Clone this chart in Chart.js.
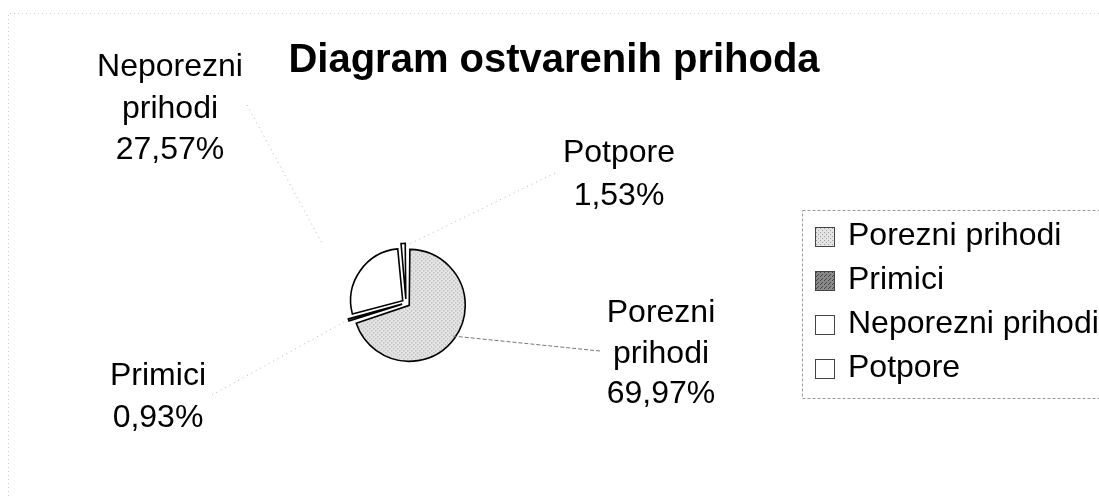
<!DOCTYPE html>
<html><head><meta charset="utf-8">
<script src="https://cdn.jsdelivr.net/npm/chart.js@4.4.0/dist/chart.umd.min.js"></script>
<style>html,body{margin:0;padding:0;background:#fff;}canvas{display:block;}</style>
</head><body>
<canvas id="c" width="1099" height="496"></canvas>
<script>
// ---- data ----
const categories = ['Porezni prihodi', 'Primici', 'Neporezni prihodi', 'Potpore'];
const shares = [69.97, 0.93, 27.57, 1.53];
const labelLines = [['Porezni', 'prihodi'], ['Primici'], ['Neporezni', 'prihodi'], ['Potpore']];
const chartTitle = 'Diagram ostvarenih prihoda';

const fmtPct = v => v.toFixed(2).replace('.', ',') + '%';

const canvas = document.getElementById('c');
const mainCtx = canvas.getContext('2d');
function stipple(base, dot, pts) {
  const t = document.createElement('canvas'); t.width = 4; t.height = 4;
  const g = t.getContext('2d');
  g.fillStyle = base; g.fillRect(0, 0, 4, 4);
  g.fillStyle = dot; pts.forEach(([x, y]) => g.fillRect(x, y, 1, 1));
  return mainCtx.createPattern(t, 'repeat');
}
const lightStipple = stipple('#e4e4e4', '#9c9c9c', [[0, 0], [2, 2]]);
const darkStipple = stipple('#8a8a8a', '#444444', [[0, 0], [2, 2], [1, 3]]);
const fills = [lightStipple, darkStipple, '#ffffff', '#ffffff'];

const FONT = '"Liberation Sans", Arial, sans-serif';

const decor = {
  id: 'decor',
  afterDraw(chart, args, o) {
    const ctx = chart.ctx;
    const meta = chart.getDatasetMeta(0);
    ctx.save();
    // faint outer frame
    ctx.strokeStyle = '#cfcfcf'; ctx.lineWidth = 1; ctx.setLineDash([1, 3]);
    ctx.beginPath(); ctx.moveTo(8.5, 496); ctx.lineTo(8.5, 13.5); ctx.lineTo(1099, 13.5); ctx.stroke();
    // title
    ctx.setLineDash([]);
    ctx.fillStyle = '#000'; ctx.textAlign = 'center'; ctx.textBaseline = 'alphabetic';
    ctx.font = 'bold ' + o.titleSize + 'px ' + FONT;
    ctx.fillText(chartTitle, o.titleX, o.titleY);
    // data labels + leader lines
    ctx.font = o.labelSize + 'px ' + FONT;
    meta.data.forEach((arc, i) => {
      const L = o.labels[i];
      const p = arc.getProps(['x', 'y', 'startAngle', 'endAngle', 'outerRadius'], true);
      const mid = (p.startAngle + p.endAngle) / 2;
      const r = p.outerRadius + (arc.options.offset || 0) / 4 + L.gap;
      const ex = p.x + Math.cos(mid) * r, ey = p.y + Math.sin(mid) * r;
      ctx.strokeStyle = L.lineColor; ctx.lineWidth = 1; ctx.setLineDash(L.dash);
      ctx.beginPath(); ctx.moveTo(L.lx, L.ly); ctx.lineTo(ex, ey); ctx.stroke();
      ctx.setLineDash([]);
      const lines = labelLines[i].concat([fmtPct(shares[i])]);
      lines.forEach((t, k) => ctx.fillText(t, L.x, L.y + k * L.step));
    });
    // legend
    const g = o.legend;
    ctx.strokeStyle = '#9a9a9a'; ctx.lineWidth = 1; ctx.setLineDash([3, 2]);
    ctx.strokeRect(g.left + 0.5, g.top + 0.5, g.width, g.height);
    ctx.setLineDash([]);
    ctx.textAlign = 'left';
    ctx.font = o.labelSize + 'px ' + FONT;
    categories.forEach((c, i) => {
      const base = g.firstBaseline + i * g.step;
      ctx.fillStyle = fills[i];
      ctx.fillRect(g.swatchX, base - 18, 20, 20);
      ctx.strokeStyle = '#444'; ctx.lineWidth = 1;
      ctx.strokeRect(g.swatchX + 0.5, base - 17.5, 19, 19);
      ctx.fillStyle = '#000';
      ctx.fillText(c, g.textX, base);
    });
    ctx.restore();
  }
};

new Chart(canvas, {
  type: 'pie',
  data: {
    labels: categories,
    datasets: [{
      data: shares,
      backgroundColor: fills,
      borderColor: '#000',
      borderWidth: 1.6,
      borderJoinStyle: 'miter',
      offset: 16
    }]
  },
  options: {
    responsive: false,
    animation: false,
    radius: 52,
    layout: { padding: { left: 300, right: 587, top: 200, bottom: 90 } },
    plugins: {
      legend: { display: false },
      title: { display: false },
      tooltip: { enabled: false },
      decor: {
        titleSize: 40, titleX: 554, titleY: 72,
        labelSize: 32,
        labels: [
          { x: 661, y: 322, step: 40.5, lx: 600, ly: 351, gap: 0, lineColor: '#777', dash: [4, 2] },
          { x: 158, y: 385, step: 42, lx: 212, ly: 395, gap: 6, lineColor: '#b5b5b5', dash: [1, 4] },
          { x: 170, y: 76, step: 41.5, lx: 247, ly: 105, gap: 45, lineColor: '#b5b5b5', dash: [1, 4] },
          { x: 619, y: 162, step: 43, lx: 555, ly: 173, gap: 0, lineColor: '#b5b5b5', dash: [1, 4] }
        ],
        legend: { left: 802, top: 210, width: 320, height: 188, swatchX: 815, textX: 848, firstBaseline: 245, step: 44 }
      }
    }
  },
  plugins: [decor]
});
</script>
</body></html>
